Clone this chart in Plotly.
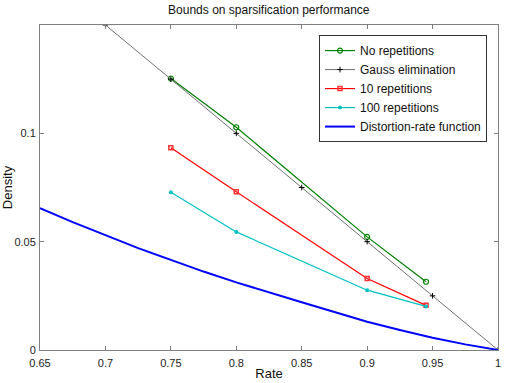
"""Bounds on sparsification performance (density vs rate)."""

import plotly.graph_objects as go

# Measured points
rate_meas = [0.75, 0.8, 0.9, 0.945]
no_rep = [0.1253, 0.1028, 0.0522, 0.0315]
rep_10 = [0.0934, 0.0730, 0.0330, 0.0206]
rep_100 = [0.0728, 0.0545, 0.0276, 0.0201]

# Gauss elimination bound
rate_gauss = [0.7, 0.75, 0.8, 0.85, 0.9, 0.95, 1.0]
gauss = [0.15, 0.125, 0.1, 0.075, 0.05, 0.025, 0.0]

# Distortion-rate function
rate_dr = [0.65, 0.675, 0.7, 0.725, 0.75, 0.775, 0.8, 0.825, 0.85,
           0.875, 0.9, 0.925, 0.95, 0.975, 1.0]
dist_rate = [0.0655, 0.059, 0.0530, 0.047, 0.0416, 0.0362, 0.0312, 0.0265,
             0.0220, 0.0175, 0.0130, 0.0092, 0.0057, 0.0026, 0.0]

x_ticks = [0.65, 0.7, 0.75, 0.8, 0.85, 0.9, 0.95, 1.0]
x_tick_text = ["0.65", "0.7", "0.75", "0.8", "0.85", "0.9", "0.95", "1"]
y_ticks = [0, 0.05, 0.1]
y_tick_text = ["0", "0.05", "0.1"]

FONT = "Liberation Sans, Arial, sans-serif"

fig = go.Figure()
fig.add_trace(go.Scatter(
    name="No repetitions", x=rate_meas, y=no_rep, mode="lines+markers",
    line=dict(color="#008000", width=1.2),
    marker=dict(symbol="circle-open", size=5, color="#008000", line=dict(width=1.2)),
))
fig.add_trace(go.Scatter(
    name="Gauss elimination", x=rate_gauss, y=gauss, mode="lines+markers",
    line=dict(color="#707070", width=1),
    marker=dict(symbol="cross-thin", size=4, color="black", line=dict(width=1, color="black")),
))
fig.add_trace(go.Scatter(
    name="10 repetitions", x=rate_meas, y=rep_10, mode="lines+markers",
    line=dict(color="#ff0000", width=1.2),
    marker=dict(symbol="square-open", size=4, color="#ff3333", line=dict(width=1.5)),
))
fig.add_trace(go.Scatter(
    name="100 repetitions", x=rate_meas, y=rep_100, mode="lines+markers",
    line=dict(color="#00c0c0", width=1.2),
    marker=dict(symbol="circle", size=4, color="#00c0c0"),
))
fig.add_trace(go.Scatter(
    name="Distortion-rate function", x=rate_dr, y=dist_rate, mode="lines",
    line=dict(color="#0000ff", width=2),
))

axis_common = dict(
    showline=True, linecolor="#808080", linewidth=1, mirror="ticks",
    ticks="inside", ticklen=4, tickcolor="#808080", showgrid=False,
    zeroline=False, automargin=False,
    tickfont=dict(size=11, color="#222", family=FONT),
)

fig.update_layout(
    width=522, height=383,
    margin=dict(l=40, r=24, t=25, b=33),
    paper_bgcolor="white", plot_bgcolor="white",
    font=dict(family=FONT, color="#111"),
    title=dict(text="Bounds on sparsification performance", x=0.515, xanchor="center",
               y=0.985, yanchor="top", font=dict(size=12, color="#111", family=FONT)),
    xaxis=dict(range=[0.65, 1.0], tickvals=x_ticks, ticktext=x_tick_text,
               ticklabelstandoff=3,
               title=dict(text="Rate", font=dict(size=13), standoff=0), **axis_common),
    yaxis=dict(range=[0, 0.15], tickvals=y_ticks, ticktext=y_tick_text,
               ticklabelstandoff=1,
               title=dict(text="Density", font=dict(size=13), standoff=4), **axis_common),
    legend=dict(x=0.976, y=0.969, xanchor="right", yanchor="top",
                bgcolor="white", bordercolor="#333", borderwidth=1,
                font=dict(size=12, family=FONT, color="#111"),
                tracegroupgap=0, itemwidth=30),
    showlegend=True,
)

fig.write_html("out.html", config={"displayModeBar": False},
               post_script="document.body.style.margin='0';")
